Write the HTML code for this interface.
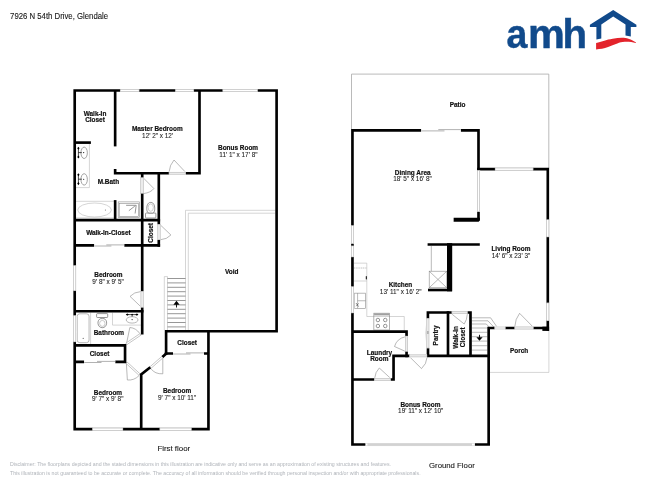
<!DOCTYPE html>
<html>
<head>
<meta charset="utf-8">
<title>Floor plan</title>
<style>
html,body{margin:0;padding:0;background:#fff;}
body{width:650px;height:488px;overflow:hidden;font-family:"Liberation Sans",sans-serif;}
svg{position:absolute;left:0;top:0;display:block;opacity:0.999;will-change:transform;}
text{font-family:"Liberation Sans",sans-serif;fill:#1a1a1a;}
.b{font-weight:bold;font-size:6.45px;text-anchor:middle;fill:#111;stroke:#111;stroke-width:0.18;}
.d{font-size:6.4px;text-anchor:middle;fill:#1c1c1c;stroke:#1c1c1c;stroke-width:0.08;}
.t{font-size:8px;fill:#151515;stroke:#151515;stroke-width:0.1;}
.f{font-size:5.22px;fill:#b0b4ba;}
.w{stroke:#000;stroke-width:2.65;fill:none;stroke-linecap:butt;stroke-linejoin:miter;}
.g{stroke:#8a8a8a;stroke-width:0.6;fill:none;}
.gd{stroke:#5e5e5e;stroke-width:0.65;fill:none;}
.gl{stroke:#b8b8b8;stroke-width:0.6;fill:none;}
.win{fill:#fff;stroke:#a2a2a2;stroke-width:0.5;}
.k{fill:#000;stroke:none;}
.dr{fill:#ececec;stroke:#a6a6a6;stroke-width:0.45;}
.lg text{font-weight:bold;font-size:41px;fill:#114a8b;stroke:#114a8b;stroke-width:0.5;}
</style>
</head>
<body>
<svg width="650" height="488" viewBox="0 0 650 488">
<rect x="0" y="0" width="650" height="488" fill="#fff"/>

<!-- ===== header ===== -->
<text class="t" style="font-size:8.5px" x="10.1" y="18.55" textLength="98" lengthAdjust="spacingAndGlyphs">7926 N 54th Drive, Glendale</text>

<!-- logo -->
<g id="logo">
<g class="lg">
<text transform="translate(506.6,48.3) scale(0.913,1)">a</text>
<text transform="translate(528.07,48.3) scale(1.01,1)">m</text>
<text transform="translate(562.56,48.3) scale(0.98,1)">h</text>
</g>
<path d="M613.2 9.9 L636.4 24.7 L636.4 26.9 L630.8 26.9 L630.8 36.4 L625.5 35.4 L625.5 24.4 L613.2 16.5 L601.3 24.4 L601.3 38.6 L596.4 39.6 L596.4 26.9 L589.9 26.9 L589.9 24.7 Z" fill="#114a8b"/>
<path d="M596.1 42.9 C599 42.3 601 41.7 603.5 40.9 C607 39.9 609.5 39.3 612.7 38.8 C616 38.2 619 37.85 621.9 37.85 C624.5 37.85 626.5 38.2 628.4 38.8 C631.5 39.8 634 41 636 42.6 L636 43 C634 42.5 632.8 42.2 631.2 42 C629 41.7 627 41.6 624.7 41.7 C622 41.9 619.5 42.6 617.3 43.4 C614 44.6 611 45.9 608.1 47.1 C604 48.6 600 49.2 596.1 49.4 Z" fill="#e3232b"/>
</g>

<!-- ===== FIRST FLOOR (left) ===== -->
<g id="first">
<!-- void railing (thin double line) -->
<path class="gl" d="M185.5 330 V210.3 H275.3 M188.3 330 V213.2 H275.3"/>
<!-- stairs -->
<path class="gl" d="M164.3 276.6 V330 M167.5 276.6 V330 M164.3 276.6 H167.5"/>
<path class="gd" d="M167.5 278.5 H185.5 M167.5 282.9 H185.5 M167.5 287.3 H185.5 M167.5 291.7 H185.5 M167.5 296.1 H185.5 M167.5 300.5 H185.5 M167.5 304.9 H185.5 M167.5 309.3 H185.5 M167.5 313.7 H185.5 M167.5 318.1 H185.5 M167.5 322.5 H185.5 M167.5 326.9 H185.5"/>
<path d="M176.5 307.5 V302.5" stroke="#000" stroke-width="0.9" fill="none"/>
<path class="k" d="M176.5 300.7 L179.6 304.7 L173.4 304.7 Z"/>

<!-- fixtures: master bath -->
<path class="gl" d="M76 187.6 H89.4 V143.9"/>
<g class="g">
<ellipse cx="84.15" cy="152.8" rx="3.2" ry="5.7" stroke="#7c7c7c" stroke-width="0.7"/>
<ellipse cx="84.15" cy="179.4" rx="3.2" ry="5.7" stroke="#7c7c7c" stroke-width="0.7"/>
</g>
<g stroke="#000" stroke-width="0.7" fill="none">
<path d="M78.4 148.2 V157 M78.4 152.6 H81.8 M78.4 174.8 V183.6 M78.4 179.2 H81.8"/>
</g>
<g class="k">
<path d="M78.4 146.64999999999998 l1.15 1.55 l-1.15 1.55 l-1.15 -1.55 z M78.4 155.45 l1.15 1.55 l-1.15 1.55 l-1.15 -1.55 z M78.4 173.25 l1.15 1.55 l-1.15 1.55 l-1.15 -1.55 z M78.4 182.04999999999998 l1.15 1.55 l-1.15 1.55 l-1.15 -1.55 z"/>
<circle cx="83.7" cy="152.6" r="0.55"/><circle cx="83.7" cy="179.2" r="0.55"/>
</g>
<!-- tub -->
<path class="gl" d="M76 201.3 H113.9 M76 217.9 H113.9"/>
<ellipse class="gl" cx="94.55" cy="210" rx="16.85" ry="7" stroke="#a6a6a6"/>
<circle cx="105.4" cy="210" r="0.55" fill="#666"/>
<!-- shower -->
<rect class="g" x="118.2" y="201.9" width="21.3" height="15.7" stroke="#777"/>
<rect class="g" x="119.2" y="203.3" width="19.3" height="13.1" stroke="#777"/>
<path class="gd" d="M126.1 205.3 H136.2 L135.1 213.5 M128.85 210.7 L134.85 206.1"/>
<!-- toilet -->
<g class="gd">
<rect x="145.5" y="213" width="10.4" height="5" rx="0.8"/>
<path d="M150.75 202.4 C154.2 202.4 154.9 206.5 154.7 209.5 C154.6 211.6 153.6 213 152.6 213 H148.9 C147.9 213 146.9 211.6 146.8 209.5 C146.6 206.5 147.3 202.4 150.75 202.4 Z" fill="#fff"/>
<ellipse cx="150.75" cy="207.6" rx="2.6" ry="3.7" stroke="#9a9a9a" stroke-width="0.5"/>
</g>

<!-- fixtures: bathroom -->
<path class="gl" d="M90.6 312.6 V344.2"/>
<rect class="g" x="77.2" y="313.8" width="11.85" height="28.9" rx="2.6" ry="2.6" stroke="#9c9c9c"/>
<circle cx="83.2" cy="338.4" r="0.55" fill="#666"/>
<g class="gd">
<rect x="96.6" y="313.6" width="11.1" height="3.9" rx="0.8"/>
<path d="M102.3 318.6 H104 C106 319.4 106.8 321.4 106.6 323.4 C106.4 326 104.6 327.7 102.3 327.7 C100 327.7 98.2 326 98 323.4 C97.8 321.4 98.6 319.4 100.6 318.6 Z" fill="#fff"/>
<ellipse cx="102.3" cy="323.4" rx="2.7" ry="3" stroke="#9a9a9a" stroke-width="0.5"/>
</g>
<path class="gl" d="M112.5 312.6 V325.1 H140.9"/>
<ellipse class="g" cx="132.1" cy="319.9" rx="5.9" ry="3.2"/>
<g stroke="#000" stroke-width="0.7" fill="none"><path d="M127.4 314.6 H136.8 M132.1 314.6 V316.6"/></g>
<g class="k"><path d="M125.75 314.6 l1.55 -1.15 l1.55 1.15 l-1.55 1.15 z M135.35 314.6 l1.55 -1.15 l1.55 1.15 l-1.55 1.15 z M131.1 314.6 l1.0 -0.9 l1.0 0.9 l-1.0 0.9 z"/><circle cx="132.1" cy="319.6" r="0.55"/></g>

<!-- doors (thin) -->
<g class="g">
<!-- master bedroom door (hinge right) -->
<path d="M185.3 172 L174 160 Q169.6 165 169.1 172"/>
<!-- toilet room door -->
<path d="M143.4 178 L153.85 188.5 Q151 192.6 143.4 193.6"/>
<!-- closet door (right of closet) -->
<path d="M160 224.6 L170.9 235 Q167 239.4 160 239.8"/>
<!-- bedroom1 door -->
<path d="M141 306.9 L130.05 296.4 Q134 292 141 291.5"/>
<!-- bathroom diagonal door -->
<path d="M126.6 343.2 L129.85 327.5 Q136 328 139.7 333.4"/>
<!-- bedroom2 diagonal door -->
<path d="M126.4 363.6 L127.35 380 Q134.4 380.6 139.2 375.4"/>
<!-- bedroom3 diagonal door -->
<path d="M162.8 357.6 V373.8 Q155 374.2 151.1 368.9"/>
</g>
<!-- diagonal door slabs -->
<g class="win" style="stroke:#8c8c8c;stroke-width:0.5">
<path d="M125.9 343.1 L140 333.6 L141 335.1 L126.9 344.6 Z"/>
<path d="M125.9 363.3 L127.1 362 L140.1 373.9 L138.9 375.2 Z"/>
<path d="M149.4 367.3 L162.5 355.8 L163.7 357.2 L150.6 368.7 Z"/>
</g>

<!-- walls -->
<g class="w">
<path d="M166.1 354.75 V331.25 H276.6 V90.45 H74.7 V429.15 H208.45 V331.25"/>
<path d="M115.15 90.45 V146.4"/>
<path d="M74.7 142.6 H90.9"/>
<path d="M115.15 169.1 V173.2 H168.9 M185.5 173.2 H199.5 V90.45"/>
<path d="M142.2 173.2 V177.8 M142.2 193.2 V291.5 M142.2 307.2 V334.4"/>
<path d="M158.8 173.2 V224.5 M158.8 239.8 V246.7"/>
<path d="M74.7 220.05 H160.1"/>
<path d="M115.15 200.1 V220.05"/>
<path d="M74.7 245.4 H94.3 M124.2 245.4 H160.1"/>
<path d="M74.7 311.25 H143.5"/>
<path d="M74.7 345.4 H125.05 V361.9 H115.2 M74.7 361.9 H84.2"/>
<path d="M141.2 430 V374.4 L150.3 367.3 M162.4 357 L166.6 353.2"/>
<path d="M164.8 353.45 H173 M203.9 353.45 H208.45"/>
</g>

<!-- windows / sliding doors -->
<g fill="#fff" stroke="none">
<rect x="120.20" y="88.65" width="18.90" height="3.60"/>
<rect x="175.40" y="88.65" width="18.40" height="3.60"/>
<rect x="222.80" y="88.65" width="34.70" height="3.60"/>
<rect x="72.90" y="265.60" width="3.60" height="25.20"/>
<rect x="72.90" y="315.60" width="3.60" height="26.30"/>
<rect x="92.50" y="427.35" width="30.40" height="3.60"/>
<rect x="159.85" y="427.35" width="31.50" height="3.60"/>
</g>
<g class="win">
<rect x="120.2" y="89.35" width="18.9" height="2.2"/>
<rect x="175.4" y="89.35" width="18.4" height="2.2"/>
<rect x="222.8" y="89.35" width="34.7" height="2.2"/>
<rect x="73.6" y="265.6" width="2.2" height="25.2"/>
<rect x="73.6" y="315.6" width="2.2" height="26.3"/>
<rect x="92.5" y="428.05" width="30.4" height="2.2"/>
<rect x="159.85" y="428.05" width="31.5" height="2.2"/>
</g>
<g fill="#fff" stroke="none">
<rect x="169.00" y="171.50" width="16.50" height="3.40"/>
<rect x="139.90" y="177.80" width="4.20" height="15.40"/>
<rect x="157.10" y="224.50" width="3.80" height="15.30"/>
<rect x="140.20" y="291.50" width="3.80" height="15.70"/>
</g>
<g class="dr">
<rect x="169" y="172.2" width="16.5" height="2"/>
<rect x="140.6" y="177.8" width="2.8" height="15.4"/>
<rect x="157.8" y="224.5" width="2.4" height="15.3"/>
<rect x="140.9" y="291.5" width="2.4" height="15.7"/>
</g>
<!-- sliding closet doors -->
<g fill="#fff" stroke="none"><rect x="94.3" y="243.6" width="29.9" height="3.6"/><rect x="84.2" y="360.1" width="31" height="3.6"/><rect x="173" y="351.6" width="30.9" height="3.6"/></g>
<g stroke="#a9a9a9" stroke-width="0.9" fill="none">
<path d="M94.3 246 H111.4 M106.3 244.9 H124.2"/>
<path d="M84.2 362.5 H101.5 M97 361.4 H115.2"/>
<path d="M173 354 H190.5 M186 352.9 H203.9"/>
</g>

<!-- labels -->
<text class="b" x="95" y="115.5">Walk-In</text>
<text class="b" x="95" y="122.3">Closet</text>
<text class="b" x="157.3" y="130.9">Master Bedroom</text>
<text class="d" x="157.6" y="137.8">12' 2" x 12'</text>
<text class="b" x="238.05" y="149.8">Bonus Room</text>
<text class="d" x="238.4" y="156.6">11' 1" x 17' 8"</text>
<text class="b" x="108.4" y="183.7">M.Bath</text>
<text class="b" x="108.4" y="235.2">Walk-In-Closet</text>
<text class="b" transform="translate(153,232.9) rotate(-90)">Closet</text>
<text class="b" x="108.4" y="277.2">Bedroom</text>
<text class="d" x="108.1" y="284.2">9' 8" x 9' 5"</text>
<text class="b" x="231.7" y="273.85">Void</text>
<text class="b" x="108.9" y="334.7">Bathroom</text>
<text class="b" x="99.55" y="355.85">Closet</text>
<text class="b" x="187.2" y="345">Closet</text>
<text class="b" x="107.95" y="394.6">Bedroom</text>
<text class="d" x="107.7" y="401.1">9' 7" x 9' 8"</text>
<text class="b" x="177.05" y="392.8">Bedroom</text>
<text class="d" x="177.1" y="399.7">9' 7" x 10' 11"</text>
<text class="t" x="157.4" y="451.3" textLength="32.8" lengthAdjust="spacingAndGlyphs">First floor</text>
</g>

<!-- ===== GROUND FLOOR (right) ===== -->
<g id="ground">
<!-- patio & porch outlines -->
<path d="M351.5 129 V74.1 H548.8 V168" stroke="#a8a8a8" stroke-width="0.8" fill="none"/>
<path class="gl" d="M490 372.4 H548.9 V330"/>

<!-- kitchen fixtures -->
<g class="gl">
<path d="M353.8 263.15 H366.8 V316.5 H404.25 V330.2"/>
<path d="M353.8 281 H366.8"/>
<path d="M353.8 268 H366.8" stroke="#9a9a9a" stroke-dasharray="1.2 0.6"/>
</g>
<path d="M366.3 276.2 V279.4" stroke="#000" stroke-width="1"/>
<g class="g">
<rect x="354.3" y="293.15" width="11.4" height="15.2"/>
<path d="M357.6 293.15 V308.35 M357.6 300.75 H365.7"/>
</g>
<g stroke="#444" stroke-width="0.6" fill="none"><path d="M356 303 L358.6 306.6 M358.6 303.4 L356.2 306.2"/></g>
<g class="gd">
<rect x="373.85" y="313.2" width="15.75" height="16.8" stroke="#8a8a8a"/>
<circle cx="377.9" cy="320" r="1.75"/><circle cx="385.25" cy="320" r="1.75"/>
<circle cx="377.9" cy="326" r="1.75"/><circle cx="385.25" cy="326" r="1.75"/>
</g>
<rect x="374.1" y="313.4" width="15.25" height="2" fill="#a0a0a0"/>

<!-- chase box with X -->
<g class="g">
<path d="M431.3 246 V271.2"/>
<rect x="429.2" y="271.2" width="17.6" height="16.55"/>
<path d="M429.2 271.2 L446.8 287.75 M446.8 271.2 L429.2 287.75"/>
</g>

<!-- stairs -->
<g class="g">
<path d="M471.9 317.8 H490.6 L497 327 M471.9 320.8 H487.9 L493.8 327 M471.9 324 H486.3 L489.2 327"/>
<path d="M471.9 328 H487.4 M471.9 332.3 H487.4 M471.9 336.7 H487.4 M471.9 341.1 H487.4 M471.9 345.7 H487.4 M471.9 350.1 H487.4"/>
</g>
<path d="M479.5 334.8 V338.4" stroke="#000" stroke-width="0.9" fill="none"/>
<path class="k" d="M479.5 340.7 L482.6 337.2 L476.4 337.2 Z"/>

<!-- doors -->
<g class="g">
<!-- front door (hinge right) -->
<path d="M532.9 326.8 L519.6 313.3 Q515.2 319 514.8 326.6"/>
<!-- laundry side door -->
<path d="M405.2 351.3 L394.5 346.5 Q396.8 338.6 405.2 336.8"/>
<!-- laundry bottom door (hinge right) -->
<path d="M390.4 378.2 L379.3 368 Q375.2 372 374.7 378.2"/>
<!-- kitchen/hall door -->
<path d="M409.9 357.1 L421.5 368.6 Q426.6 364 427 357.5"/>
<!-- walk-in closet door -->
<path d="M451.9 314.1 L464.2 324 Q467 320 467.3 314.1"/>
<!-- pantry door -->
<path d="M426.8 318.6 Q425.4 333 426.8 347.8"/>
</g>

<!-- walls -->
<g class="w">
<path d="M478.5 170.4 V130.3 H460.7 M421.3 130.3 H352.45 V444.5 H488.65 V328 H494.8"/>
<path d="M547.8 330.8 V169.1 H477.2"/>
<path d="M505.2 328 H514.8 M533.2 328 H548"/>
<path d="M478.5 211.5 V220"/>
<path d="M427.6 244.5 H479.8"/>
<path d="M428 290 H452"/>
<path d="M427.9 318.5 V312.45 H451.9 M467.3 312.45 H470.5 V355.9"/>
<path d="M428 348.3 V355.9 H489.9"/>
<path d="M448 311.2 V355.9"/>
<path d="M352.45 331.65 H406.55 V336 M406.55 351.2 V357.2"/>
<path d="M409.6 355.9 H393.55 V379.5 H390.4 M352.45 379.5 H374.5"/>
</g>
<path class="k" d="M453.65 217.8 H479.8 V220.6 L478.6 221.8 H453.65 Z"/>
<rect class="k" x="447" y="243.2" width="5.2" height="48.1"/>
<rect class="k" x="542.35" y="326.7" width="6.75" height="4.2"/>

<!-- windows / sliding -->
<g fill="#fff" stroke="none">
<rect x="495.10" y="167.30" width="38.00" height="3.60"/>
<rect x="546.00" y="219.75" width="3.60" height="17.25"/>
<rect x="546.00" y="302.90" width="3.60" height="17.90"/>
<rect x="350.65" y="225.60" width="3.60" height="18.00"/>
<rect x="350.65" y="245.90" width="3.60" height="11.10"/>
<rect x="350.65" y="286.70" width="3.60" height="26.30"/>
<rect x="476.80" y="170.40" width="3.40" height="41.10"/>
<rect x="494.80" y="326.30" width="10.40" height="3.40"/>
</g>
<g class="win">
<rect x="495.1" y="168" width="38" height="2.2"/>
<rect x="546.7" y="219.75" width="2.2" height="17.25"/>
<rect x="546.7" y="302.9" width="2.2" height="17.9"/>
<rect x="351.35" y="225.6" width="2.2" height="18"/>
<rect x="351.35" y="245.9" width="2.2" height="11.1"/>
<rect x="351.35" y="286.7" width="2.2" height="26.3"/>
<rect x="477.5" y="170.4" width="2" height="41.1"/>
<rect x="494.8" y="327" width="10.4" height="2"/>
</g>
<g fill="#fff" stroke="none">
<rect x="514.80" y="326.20" width="18.40" height="3.60"/>
<rect x="404.80" y="336.00" width="3.60" height="15.30"/>
<rect x="374.50" y="377.70" width="15.90" height="3.60"/>
<rect x="409.60" y="354.15" width="17.40" height="3.50"/>
<rect x="426.10" y="318.50" width="3.60" height="29.50"/>
<rect x="451.90" y="310.70" width="15.40" height="3.50"/>
</g>
<g class="dr">
<rect x="514.8" y="326.9" width="18.4" height="2.2"/>
<rect x="405.5" y="336" width="2.2" height="15.3"/>
<rect x="374.5" y="378.4" width="15.9" height="2.2"/>
<rect x="409.6" y="354.85" width="17.4" height="2.1"/>
<rect x="426.8" y="318.5" width="2.2" height="29.5"/>
<rect x="451.9" y="311.4" width="15.4" height="2.1"/>
</g>
<path d="M427.9 331 V334" stroke="#777" stroke-width="0.8"/>
<!-- patio sliding door -->
<rect x="421.3" y="128.5" width="39.4" height="3.6" fill="#fff"/>
<g stroke="#a9a9a9" stroke-width="0.9" fill="none"><path d="M421.3 130.9 H444.5 M438.3 129.6 H460.7"/></g>
<!-- garage door -->
<rect x="365.4" y="442.6" width="109.5" height="3.8" fill="#fff"/>
<rect x="367.4" y="443.4" width="104.6" height="2.3" fill="#d2d2d2"/>
<path d="M365.4 443.5 H474.9 M365.4 445.6 H474.9" stroke="#c4c4c4" stroke-width="0.4" fill="none"/>

<!-- labels -->
<text class="b" x="457.5" y="106.8">Patio</text>
<text class="b" x="412.7" y="174.6">Dining Area</text>
<text class="d" x="412.5" y="181.3">18' 5" x 16' 8"</text>
<text class="b" x="510.9" y="251.4">Living Room</text>
<text class="d" x="510.95" y="257.9">14' 6" x 23' 3"</text>
<text class="b" x="400.45" y="286.6">Kitchen</text>
<text class="d" x="400.7" y="293.5">13' 11" x 16' 2"</text>
<text class="b" x="379.5" y="354.6">Laundry</text>
<text class="b" x="379.25" y="361.1">Room</text>
<text class="b" transform="translate(437.9,335.4) rotate(-90)">Pantry</text>
<text class="b" transform="translate(458.3,337.3) rotate(-90)">Walk-In</text>
<text class="b" transform="translate(464.9,337.3) rotate(-90)">Closet</text>
<text class="b" x="519.2" y="353.1">Porch</text>
<text class="b" x="420.45" y="406.5">Bonus Room</text>
<text class="d" x="420.7" y="413">19' 11" x 12' 10"</text>
<text class="t" x="429" y="467.6" textLength="45.8" lengthAdjust="spacingAndGlyphs">Ground Floor</text>
</g>

<!-- ===== footer ===== -->
<text class="f" x="10" y="466.4" textLength="381" lengthAdjust="spacingAndGlyphs">Disclaimer: The floorplans depicted and the stated dimensions in this illustration are indicative only and serve as an approximation of existing structures and features.</text>
<text class="f" x="10" y="474.5" textLength="410.6" lengthAdjust="spacingAndGlyphs">This illustration is not guaranteed to be accurate or complete. The accuracy of all information should be verified through personal inspection and/or with appropriate professionals.</text>
</svg>
</body>
</html>
